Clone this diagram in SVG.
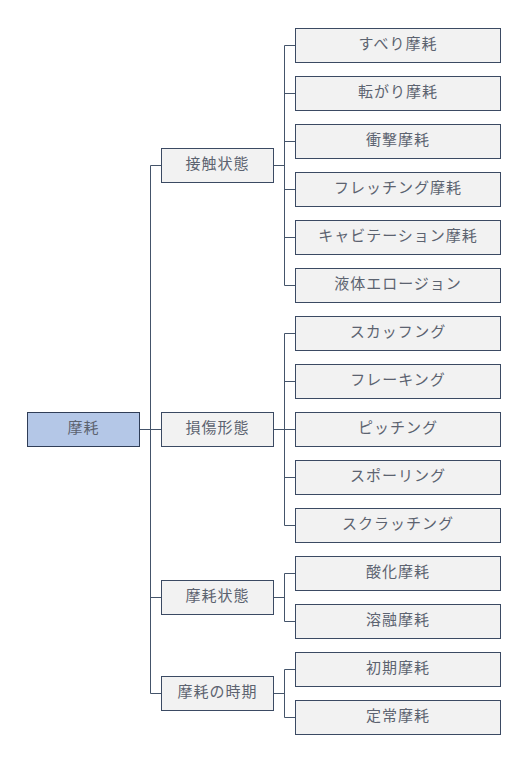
<svg xmlns="http://www.w3.org/2000/svg" width="532" height="758" viewBox="0 0 532 758">
<style>
.b{fill:#f2f2f2;stroke:#3b4a63;stroke-width:1}
.r{fill:#b4c7e7;stroke:#2f3d57;stroke-width:1}
.t{font-family:"Noto Sans CJK JP","Noto Sans",sans-serif;font-size:15px;fill:#5c6370;text-anchor:middle;letter-spacing:1px}
.c{fill:none;stroke:#44546a;stroke-width:1}
</style>
<rect width="532" height="758" fill="#ffffff"/>
<g id="connectors">
<path class="c" d="M139.5,429.5H150.5M150.5,165.5V693.5M150.5,165.5H161.5M150.5,429.5H161.5M150.5,597.5H161.5M150.5,693.5H161.5"/>
<path class="c" d="M273.5,165.5H284.5M284.5,45.5V285.5M284.5,45.5H295.5M284.5,93.5H295.5M284.5,141.5H295.5M284.5,189.5H295.5M284.5,237.5H295.5M284.5,285.5H295.5"/>
<path class="c" d="M273.5,429.5H284.5M284.5,333.5V525.5M284.5,333.5H295.5M284.5,381.5H295.5M284.5,429.5H295.5M284.5,477.5H295.5M284.5,525.5H295.5"/>
<path class="c" d="M273.5,597.5H284.5M284.5,573.5V621.5M284.5,573.5H295.5M284.5,621.5H295.5"/>
<path class="c" d="M273.5,693.5H284.5M284.5,669.5V717.5M284.5,669.5H295.5M284.5,717.5H295.5"/>
</g>
<g id="root"><rect class="r" x="27.5" y="412.5" width="112" height="34"/><text class="t" x="83.5" y="433">摩耗</text></g>
<g id="n1"><rect class="b" x="161.5" y="148.5" width="112" height="34"/><text class="t" x="217.5" y="169">接触状態</text></g>
<g id="n2"><rect class="b" x="161.5" y="412.5" width="112" height="34"/><text class="t" x="217.5" y="433">損傷形態</text></g>
<g id="n3"><rect class="b" x="161.5" y="580.5" width="112" height="34"/><text class="t" x="217.5" y="601">摩耗状態</text></g>
<g id="n4"><rect class="b" x="161.5" y="676.5" width="112" height="34"/><text class="t" x="217.5" y="697">摩耗の時期</text></g>
<g id="l1"><rect class="b" x="295.5" y="28.5" width="205" height="34"/><text class="t" x="398" y="49">すべり摩耗</text></g>
<g id="l2"><rect class="b" x="295.5" y="76.5" width="205" height="34"/><text class="t" x="398" y="97">転がり摩耗</text></g>
<g id="l3"><rect class="b" x="295.5" y="124.5" width="205" height="34"/><text class="t" x="398" y="145">衝撃摩耗</text></g>
<g id="l4"><rect class="b" x="295.5" y="172.5" width="205" height="34"/><text class="t" x="398" y="193">フレッチング摩耗</text></g>
<g id="l5"><rect class="b" x="295.5" y="220.5" width="205" height="34"/><text class="t" x="398" y="241">キャビテーション摩耗</text></g>
<g id="l6"><rect class="b" x="295.5" y="268.5" width="205" height="34"/><text class="t" x="398" y="289">液体エロージョン</text></g>
<g id="l7"><rect class="b" x="295.5" y="316.5" width="205" height="34"/><text class="t" x="398" y="337">スカッフング</text></g>
<g id="l8"><rect class="b" x="295.5" y="364.5" width="205" height="34"/><text class="t" x="398" y="385">フレーキング</text></g>
<g id="l9"><rect class="b" x="295.5" y="412.5" width="205" height="34"/><text class="t" x="398" y="433">ピッチング</text></g>
<g id="l10"><rect class="b" x="295.5" y="460.5" width="205" height="34"/><text class="t" x="398" y="481">スポーリング</text></g>
<g id="l11"><rect class="b" x="295.5" y="508.5" width="205" height="34"/><text class="t" x="398" y="529">スクラッチング</text></g>
<g id="l12"><rect class="b" x="295.5" y="556.5" width="205" height="34"/><text class="t" x="398" y="577">酸化摩耗</text></g>
<g id="l13"><rect class="b" x="295.5" y="604.5" width="205" height="34"/><text class="t" x="398" y="625">溶融摩耗</text></g>
<g id="l14"><rect class="b" x="295.5" y="652.5" width="205" height="34"/><text class="t" x="398" y="673">初期摩耗</text></g>
<g id="l15"><rect class="b" x="295.5" y="700.5" width="205" height="34"/><text class="t" x="398" y="721">定常摩耗</text></g>
</svg>
